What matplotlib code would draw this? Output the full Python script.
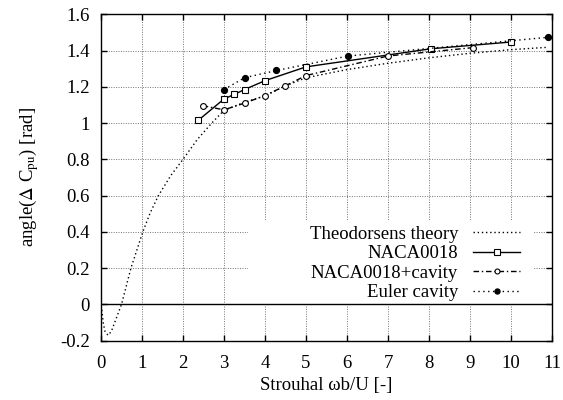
import matplotlib
matplotlib.use("Agg")
import matplotlib.pyplot as plt
from matplotlib.patches import Rectangle
from matplotlib.ticker import FormatStrFormatter


# Theodorsen theory curve
theo_x = [0.02, 0.06, 0.1, 0.17, 0.25, 0.35, 0.5, 0.73, 1.02, 1.2, 1.4, 1.7, 2.0,
          2.35, 2.7, 3.0, 3.5, 4.0, 4.5, 5.0, 6.0, 7.0, 8.0, 9.0, 10.0, 10.9]
theo_y = [-0.03, -0.11, -0.15, -0.17, -0.15, -0.09, 0.0, 0.2, 0.4, 0.505, 0.6, 0.71, 0.8,
          0.91, 1.0, 1.07, 1.115, 1.15, 1.205, 1.25, 1.295, 1.33, 1.36, 1.385, 1.405, 1.418]

# NACA0018
naca_x = [2.37, 3.0, 3.25, 3.5, 4.0, 5.0, 8.05, 10.0]
naca_y = [1.015, 1.133, 1.158, 1.185, 1.234, 1.31, 1.41, 1.447]

# NACA0018+cavity
cav_x = [2.48, 3.0, 3.5, 4.0, 4.49, 5.0, 7.0, 9.07]
cav_y = [1.096, 1.073, 1.11, 1.152, 1.205, 1.262, 1.37, 1.416]

# Euler cavity
euler_x = [3.0, 3.5, 4.28, 6.03, 10.9]
euler_y = [1.185, 1.25, 1.29, 1.37, 1.473]

x_ticks = list(range(0, 12))
y_ticks = [-0.2, 0, 0.2, 0.4, 0.6, 0.8, 1.0, 1.2, 1.4, 1.6]


def main():
    plt.rcParams["font.family"] = ["Liberation Serif", "DejaVu Serif"]
    plt.rcParams["mathtext.fontset"] = "stix"
    plt.rcParams["font.size"] = 13.5

    fig = plt.figure(figsize=(5.63, 4.0), dpi=100)
    ax = fig.add_axes([0.1794, 0.1483, 0.8011, 0.816])

    ax.plot(theo_x, theo_y, color="k", lw=1.0, linestyle=(0, (1, 2)),
            label="Theodorsens theory")
    ax.plot(naca_x, naca_y, color="k", lw=1.0, linestyle="-",
            marker="s", markersize=4.6, markerfacecolor="white",
            markeredgewidth=0.8, label="NACA0018")
    ax.plot(cav_x, cav_y, color="k", lw=1.0, linestyle=(0, (4, 2, 1, 2)),
            marker="o", markersize=4.2, markerfacecolor="white",
            markeredgewidth=0.8, label="NACA0018+cavity")
    ax.plot(euler_x, euler_y, color="k", lw=1.0, linestyle=(0, (1, 2.5)),
            marker="o", markersize=4.2, markerfacecolor="black",
            label="Euler cavity")

    ax.axhline(0, color="k", lw=1.0, zorder=4)

    ax.set_xlim(0, 11)
    ax.set_ylim(-0.2, 1.6)
    ax.set_xticks(x_ticks)
    ax.set_yticks(y_ticks)
    ax.yaxis.set_major_formatter(FormatStrFormatter("%g"))
    ax.xaxis.set_major_formatter(FormatStrFormatter("%g"))

    ax.grid(True, color="0.45", linestyle=(0, (1, 1.5)), lw=0.7)
    ax.set_axisbelow(True)
    ax.tick_params(direction="in", top=True, right=True, length=4, width=1.0)
    ax.tick_params(axis="y", pad=8)
    ax.tick_params(axis="x", pad=10)
    for spine in ax.spines.values():
        spine.set_linewidth(1.0)

    ax.set_xlabel("Strouhal \u03c9b/U [-]", labelpad=4)
    ax.set_ylabel(r"angle($\Delta$ C$_{\mathrm{pu}}$) [rad]", labelpad=14)

    # opaque key box, wider than the key itself (gnuplot style)
    ax.add_patch(Rectangle((0.326, 0.112), 0.632, 0.255, transform=ax.transAxes,
                           facecolor="white", edgecolor="none", zorder=1.2))

    ax.legend(loc="lower right", bbox_to_anchor=(0.958, 0.081),
              markerfirst=False, frameon=False,
              handlelength=2.5, handletextpad=0.8, labelspacing=0.12,
              borderpad=0.7, borderaxespad=0.0, markerscale=0.85)

    fig.savefig("out.png", dpi=100)
    plt.close(fig)


if __name__ == "__main__":
    main()
